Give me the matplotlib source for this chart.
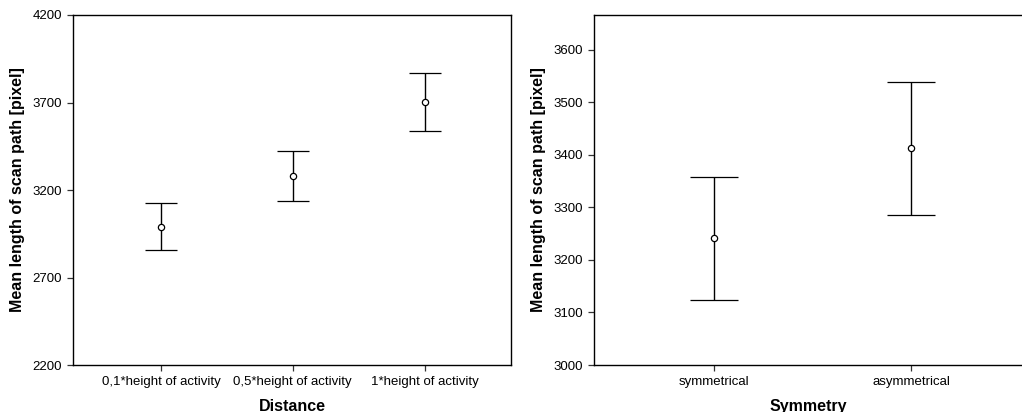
import matplotlib.pyplot as plt

plt.rcParams['font.family'] = ['Liberation Sans', 'DejaVu Sans']

# Datos: media e intervalo (inferior, superior)
distancias = ['0,1*height of activity', '0,5*height of activity', '1*height of activity']
media_dist = [2991, 3282, 3705]
inf_dist = [2856, 3137, 3539]
sup_dist = [3126, 3425, 3871]

simetria = ['symmetrical', 'asymmetrical']
media_sim = [3241, 3412]
inf_sim = [3124, 3285]
sup_sim = [3357, 3539]


def panel(ax, cats, media, inf, sup, capsize):
    x = list(range(len(cats)))
    err = [[m - l for m, l in zip(media, inf)], [u - m for m, u in zip(media, sup)]]
    _, caps, _ = ax.errorbar(x, media, yerr=err, fmt='o', mfc='white', mec='black',
                             mew=0.9, ms=4.5, ecolor='black', elinewidth=1,
                             capsize=capsize, capthick=1.3)
    for c in caps:
        c.set_color('#555555')
    ax.set_xticks(x)
    ax.set_xticklabels(cats)
    ax.tick_params(axis='both', labelsize=9.5, length=4.5, width=0.9, color='#333333')
    for s in ax.spines.values():
        s.set_linewidth(1)
    ax.set_ylabel('Mean length of scan path [pixel]', fontsize=11.5, fontweight='bold', labelpad=5)


fig = plt.figure(figsize=(10.22, 4.12), dpi=100)

ax1 = fig.add_axes([0.0714, 0.114, 0.4286, 0.8496])
panel(ax1, distancias, media_dist, inf_dist, sup_dist, 11.5)
ax1.set_xlim(-0.667, 2.655)
ax1.set_ylim(2200, 4200)
ax1.set_yticks([2200, 2700, 3200, 3700, 4200])
ax1.set_xlabel('Distance', fontsize=11.5, fontweight='bold', labelpad=8)

ax2 = fig.add_axes([0.581, 0.114, 0.419, 0.8496])
panel(ax2, simetria, media_sim, inf_sim, sup_sim, 17.3)
ax2.set_xlim(-0.608, 1.56)
ax2.set_ylim(3000, 3666)
ax2.set_yticks([3000, 3100, 3200, 3300, 3400, 3500, 3600])
ax2.spines['right'].set_visible(False)
ax2.set_xlabel('Symmetry', fontsize=11.5, fontweight='bold', labelpad=8)

plt.savefig('out.png', dpi=100)
